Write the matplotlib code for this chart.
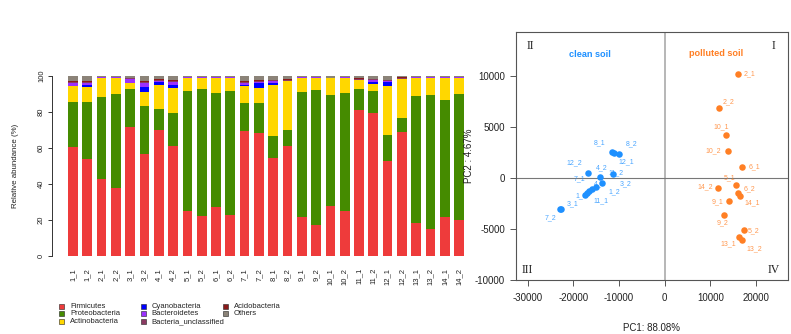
import numpy as np
import matplotlib
matplotlib.use("Agg")
import matplotlib.pyplot as plt
from matplotlib.patches import Rectangle

plt.rcParams['font.family'] = ['Liberation Sans', 'DejaVu Sans']

# ---------------- data: stacked bars ----------------
samples = ['1_1', '1_2', '2_1', '2_2', '3_1', '3_2', '4_1', '4_2', '5_1', '5_2',
           '6_1', '6_2', '7_1', '7_2', '8_1', '8_2', '9_1', '9_2', '10_1', '10_2',
           '11_1', '11_2', '12_1', '12_2', '13_1', '13_2', '14_1', '14_2']

phyla = ['Firmicutes', 'Proteobacteria', 'Actinobacteria', 'Cyanobacteria',
         'Bacteroidetes', 'Bacteria_unclassified', 'Acidobacteria', 'Others']

firmicutes = [60.7, 53.9, 42.6, 37.8, 71.5, 56.9, 70.0, 61.1, 25.0, 22.2,
              27.2, 22.6, 69.4, 68.1, 54.3, 61.3, 21.5, 17.0, 27.6, 25.0,
              81.3, 79.6, 53.0, 69.1, 18.5, 15.2, 21.9, 20.0]
proteobacteria = [24.7, 31.5, 45.5, 52.0, 21.1, 26.6, 11.7, 18.5, 66.7, 70.6,
                  63.4, 69.1, 15.6, 16.7, 12.2, 8.9, 69.4, 75.4, 62.0, 65.7,
                  11.3, 12.1, 14.0, 7.8, 70.6, 74.2, 64.6, 70.0]
actinobacteria = [8.9, 8.5, 11.0, 9.3, 3.5, 7.6, 13.3, 13.5, 7.4, 6.3,
                  8.5, 7.4, 9.6, 8.7, 28.5, 27.2, 8.2, 6.7, 9.1, 8.4,
                  5.2, 4.0, 27.3, 21.4, 10.0, 9.7, 12.6, 9.1]
cyanobacteria = [0.2, 0.9, 0.0, 0.0, 0.1, 3.0, 1.7, 2.0, 0.0, 0.0,
                 0.0, 0.0, 0.6, 2.6, 1.3, 0.0, 0.0, 0.0, 0.0, 0.0,
                 0.0, 1.2, 2.6, 0.0, 0.0, 0.0, 0.0, 0.0]
bacteroidetes = [1.8, 1.5, 0.1, 0.1, 2.4, 2.2, 0.7, 1.7, 0.1, 0.1,
                 0.1, 0.1, 0.9, 0.8, 0.9, 0.1, 0.1, 0.1, 0.1, 0.1,
                 0.1, 0.8, 0.6, 0.1, 0.1, 0.1, 0.1, 0.1]
unclassified = [0.3, 0.5, 0.2, 0.2, 0.2, 0.6, 0.3, 0.5, 0.2, 0.2,
                0.2, 0.2, 0.5, 0.4, 0.4, 0.4, 0.2, 0.2, 0.2, 0.2,
                0.4, 0.4, 0.2, 0.4, 0.2, 0.2, 0.2, 0.2]
acidobacteria = [0.4, 0.5, 0.1, 0.1, 0.3, 0.5, 0.5, 0.5, 0.1, 0.1,
                 0.1, 0.1, 0.5, 0.4, 0.4, 0.5, 0.1, 0.1, 0.1, 0.1,
                 0.6, 0.5, 0.1, 0.9, 0.1, 0.1, 0.1, 0.1]
others = [3.0, 2.7, 0.5, 0.5, 0.9, 2.6, 1.8, 2.2, 0.5, 0.5,
          0.5, 0.5, 2.9, 2.3, 2.0, 1.6, 0.5, 0.5, 0.9, 0.5,
          1.1, 1.4, 2.2, 0.3, 0.5, 0.5, 0.5, 0.5]

phylum_colors = ['#EE3B3B', '#458B00', '#FFD700', '#0000FF',
                 '#9B30FF', '#8B3A62', '#8B1A1A', '#8B8378']

yticks_bar = [0, 20, 40, 60, 80, 100]

# ---------------- data: PCA ----------------
clean_labels = ['8_1', '8_2', '12_1', '12_2', '4_2', '11_2', '3_2',
                '4_1', '1_2', '11_1', '7_1', '1_1', '3_1', '7_2']
clean_pc1 = [-11600, -11000, -9900, -16850, -14100, -11250, -13650,
             -15030, -15900, -16500, -16940, -17500, -22600, -22900]
clean_pc2 = [2520, 2470, 2400, 520, 70, 360, -460,
             -880, -1050, -1250, -1440, -1640, -3000, -3080]

polluted_labels = ['2_1', '2_2', '10_1', '10_2', '6_1', '5_1', '14_2',
                   '6_2', '14_1', '9_1', '9_2', '5_2', '13_1', '13_2']
polluted_pc1 = [16100, 11800, 13400, 13850, 16850, 15600, 11730,
                16100, 16550, 14000, 12900, 17350, 16260, 16850]
polluted_pc2 = [10200, 6890, 4190, 2650, 1050, -650, -980,
                -1440, -1730, -2220, -3630, -5130, -5750, -6080]

# label offsets (pixels) from each point
clean_off = [(-12, 10), (17, 9), (7, -8), (-13, 10), (1, 10), (3, 2), (23, -1),
             (4, 3), (22, -3), (12, -10), (-8, 14), (-3, -1), (11, 5), (-10, -8)]
polluted_off = [(11, 0), (10, 6), (-5, 8), (-15, 0), (13, 1), (-6, 7), (-13, 1),
                (11, 4), (12, -7), (-11, -1), (-1, -8), (10, 0), (-11, -7), (13, -9)]

xticks_pca = [-30000, -20000, -10000, 0, 10000, 20000]
yticks_pca = [-10000, -5000, 0, 5000, 10000]

blue = '#1E90FF'
orange = '#FF7F24'

# ---------------- figure ----------------
W, H = 791, 334
fig = plt.figure(figsize=(W / 100, H / 100), dpi=100)


def rect(l, t, r, b):
    return [l / W, 1 - b / H, (r - l) / W, (b - t) / H]


# ---- stacked bar chart ----
ax1 = fig.add_axes(rect(52, 76, 470, 256))
x = np.arange(len(samples))
bottom = np.zeros(len(samples))
series = [firmicutes, proteobacteria, actinobacteria, cyanobacteria,
          bacteroidetes, unclassified, acidobacteria, others]
for vals, col in zip(series, phylum_colors):
    vals = np.array(vals)
    ax1.bar(x, vals, width=0.68, bottom=bottom, color=col, linewidth=0)
    bottom += vals

ax1.set_xlim(-(73 - 52) / 14.3, (470 - 73) / 14.3)
ax1.set_ylim(0, 100)
for s in ['top', 'right', 'bottom']:
    ax1.spines[s].set_visible(False)
ax1.spines['left'].set_bounds(0, 100)
ax1.spines['left'].set_color('#333333')
ax1.spines['left'].set_linewidth(0.7)
ax1.set_yticks(yticks_bar)
ax1.set_yticklabels([str(v) for v in yticks_bar], rotation=90, va='center',
                    fontsize=5.5, color='#222222')
ax1.tick_params(axis='y', length=3, width=0.7, color='#333333', pad=2)
ax1.set_xticks(x)
ax1.set_xticklabels(samples, rotation=90, fontsize=5.5, color='#222222')
ax1.tick_params(axis='x', length=0, pad=8.5)
ax1.set_ylabel('Relative abundance (%)', fontsize=5.7, color='#222222')
ax1.yaxis.set_label_coords((19 - 52) / 418, 0.5)

# legend (manual placement)
col_sq_x = [59, 140.7, 222.7]
row_y = [306, 313.7, 321.7]
for i, (name, col) in enumerate(zip(phyla, phylum_colors)):
    c, r = i // 3, i % 3
    x0 = col_sq_x[c]
    yc = row_y[r]
    fig.add_artist(Rectangle((x0 / W, 1 - (yc + 2.5) / H), 5 / W, 5 / H,
                             transform=fig.transFigure, facecolor=col,
                             edgecolor='#222222', linewidth=0.4))
    fig.text((x0 + 11) / W, 1 - yc / H, name, fontsize=5.5, va='center',
             ha='left', color='#222222')

# ---- PCA scatter ----
ax2 = fig.add_axes(rect(515.7, 32, 788, 280))
ax2.set_xlim(-32600, 26980)
ax2.set_ylim(-10000, 14310)
ax2.axvline(0, color='#aaaaaa', linewidth=1.2, zorder=1)
ax2.axhline(0, color='#777777', linewidth=0.8, zorder=1)

ax2.scatter(clean_pc1, clean_pc2, s=22, color=blue, zorder=3, linewidths=0)
ax2.scatter(polluted_pc1, polluted_pc2, s=22, color=orange, zorder=3, linewidths=0)
for lab, px, py, off in zip(clean_labels, clean_pc1, clean_pc2, clean_off):
    ax2.annotate(lab, (px, py), xytext=off, textcoords='offset pixels',
                 fontsize=5, color=blue, alpha=0.8, ha='center', va='center', zorder=2)
for lab, px, py, off in zip(polluted_labels, polluted_pc1, polluted_pc2, polluted_off):
    ax2.annotate(lab, (px, py), xytext=off, textcoords='offset pixels',
                 fontsize=5, color=orange, alpha=0.8, ha='center', va='center', zorder=2)

for s in ax2.spines.values():
    s.set_color('#555555')
    s.set_linewidth(0.8)
ax2.set_xticks(xticks_pca)
ax2.set_xticklabels([str(v) for v in xticks_pca], fontsize=7, color='#222222')
ax2.set_yticks(yticks_pca)
ax2.set_yticklabels([str(v) for v in yticks_pca], fontsize=7, color='#222222')
ax2.tick_params(axis='both', length=4.3, width=0.7, color='#555555')
ax2.tick_params(axis='x', pad=5)
ax2.tick_params(axis='y', pad=3.5)
ax2.set_xlabel('PC1: 88.08%', fontsize=7, color='#222222')
ax2.xaxis.set_label_coords(0.5, -(323 - 280) / 248)
ax2.set_ylabel('PC2 : 4.67%', fontsize=7, color='#222222')
ax2.yaxis.set_label_coords((474 - 515.7) / 272.3, 0.5)

ax2.text(-16300, 12060, 'clean soil', color=blue, fontsize=6.6, fontweight='bold',
         family=['Liberation Sans', 'DejaVu Sans'], ha='center', va='center')
ax2.text(11150, 12250, 'polluted soil', color=orange, fontsize=6.6, fontweight='bold',
         family=['Liberation Sans', 'DejaVu Sans'], ha='center', va='center')

serif = ['Liberation Serif', 'DejaVu Serif']
ax2.text(-29500, 12970, 'II', family=serif, fontsize=8.5, ha='center', va='center', color='#222222')
ax2.text(23900, 12970, 'I', family=serif, fontsize=8.5, ha='center', va='center', color='#222222')
ax2.text(-30100, -9000, 'III', family=serif, fontsize=8.5, ha='center', va='center', color='#222222')
ax2.text(23900, -9000, 'IV', family=serif, fontsize=8.5, ha='center', va='center', color='#222222')

fig.savefig('out.png', dpi=100)
